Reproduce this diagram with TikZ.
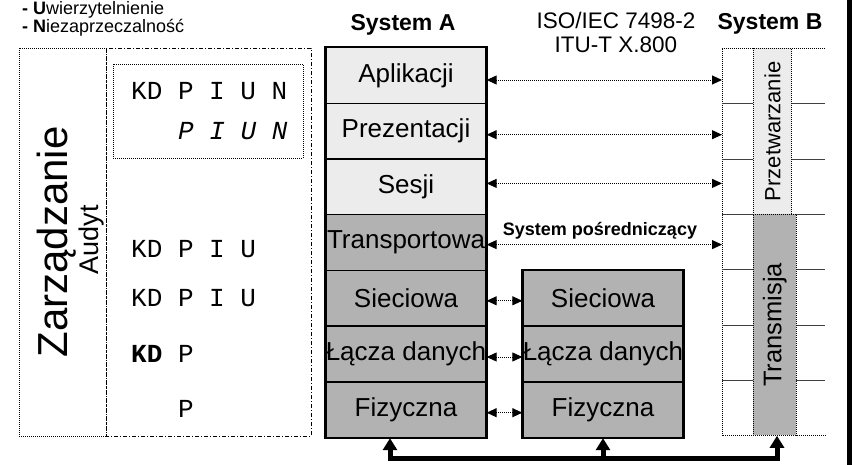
\documentclass[tikz,border=0pt]{standalone}
\usepackage{fontspec}
\setmainfont{Liberation Sans}
\newfontfamily\cmono{Liberation Mono}
\usetikzlibrary{arrows.meta}
\definecolor{lightg}{RGB}{236,236,236}
\definecolor{darkg}{RGB}{178,178,178}
\begin{document}
\begin{tikzpicture}[x=1pt,y=-1pt,
  layerbox/.style={draw=black,line width=1.3pt,minimum width=160pt,minimum height=55.7pt,inner sep=0pt},
  layertext/.style={font=\fontsize{26}{26}\selectfont,inner sep=0pt},
  monotext/.style={font=\cmono\fontsize{26}{26}\selectfont,anchor=base west,inner sep=0pt},
  dar/.style={line width=0.9pt,dash pattern=on 1pt off 1pt,{Triangle[length=10pt,width=9pt]}-{Triangle[length=10pt,width=9pt]}},
  thickar/.style={line width=5pt,line join=miter,-{Triangle[length=12pt,width=14pt]}},
  frame/.style={line width=0.8pt,dash pattern=on 1pt off 1pt},
  dashdotframe/.style={line width=0.8pt,dash pattern=on 4pt off 2pt on 1pt off 2pt},
  title/.style={font=\bfseries\fontsize{23}{23}\selectfont,anchor=base,inner sep=0pt},
  blabel/.style={inner sep=0pt,rotate=90,anchor=base}]
\useasboundingbox (0,0) rectangle (852,465);
% top-left legend
\node[anchor=base west,inner sep=0pt,font=\fontsize{18}{18}\selectfont] (l1) at (22,15) {\textbf{- U}wierzytelnienie};
\node[anchor=base west,inner sep=0pt,font=\fontsize{18}{18}\selectfont] (l2) at (22,32.5) {\textbf{- N}iezaprzeczalność};
% left frames
\draw[frame] (19,48) rectangle (106,436);
\draw[dashdotframe] (106,48) rectangle (311,436);
\draw[frame] (113,64) rectangle (303,158);
\node[blabel,font=\fontsize{42}{42}\selectfont] (zarz) at (67,242) {Zarządzanie};
\node[blabel,font=\fontsize{27}{27}\selectfont] (audyt) at (98,240) {Audyt};
\node[monotext] (m1) at (131,100) {KD P I U N};
\node[monotext,font=\cmono\itshape\fontsize{26}{26}\selectfont] (m2) at (178,140) {P I U N};
\node[monotext] (m3) at (131,258) {KD P I U};
\node[monotext] (m4) at (131,307) {KD P I U};
\node[monotext] (m5) at (131,362) {\textbf{KD} P};
\node[monotext] (m6) at (178,417) {P};
% titles
\node[title] (tA) at (403,31) {System A};
\node[title] (tB) at (770,30) {System B};
\node[anchor=base,inner sep=0pt,font=\fontsize{22.5}{22.5}\selectfont] (iso1) at (616,29) {ISO/IEC 7498-2};
\node[anchor=base,inner sep=0pt,font=\fontsize{22.5}{22.5}\selectfont] (iso2) at (616,53) {ITU-T X.800};
% System A
\node[layerbox,fill=lightg] (A1) at (406,75.5) {};
\node[layerbox,fill=lightg] (A2) at (406,131.2) {};
\node[layerbox,fill=lightg] (A3) at (406,186.9) {};
\node[layerbox,fill=darkg] (A4) at (406,242.6) {};
\node[layerbox,fill=darkg] (A5) at (406,298.3) {};
\node[layerbox,fill=darkg] (A6) at (406,354) {};
\node[layerbox,fill=darkg] (A7) at (406,409.7) {};
\draw[line width=2pt] (A1.north west) rectangle (A7.south east);
\node[layertext] at (A1) {Aplikacji};
\node[layertext] at (A2) {Prezentacji};
\node[layertext] at (A3) {Sesji};
\node[layertext] at (A4) {Transportowa};
\node[layertext] at (A5) {Sieciowa};
\node[layertext] at (A6) {Łącza danych};
\node[layertext] at (A7) {Fizyczna};
% intermediate system
\node[layerbox,fill=darkg] (I1) at (603,298.3) {};
\node[layerbox,fill=darkg] (I2) at (603,354) {};
\node[layerbox,fill=darkg] (I3) at (603,409.7) {};
\draw[line width=2pt] (I1.north west) rectangle (I3.south east);
\node[layertext] at (I1) {Sieciowa};
\node[layertext] at (I2) {Łącza danych};
\node[layertext] at (I3) {Fizyczna};
% System B
\node[inner sep=0pt,minimum width=103pt,minimum height=387pt,anchor=north west] (Bfr) at (722,48) {};
\draw[frame] (Bfr.north east) -- (Bfr.north west) -- (Bfr.south west) -- (Bfr.south east);
\foreach \yy in {103,159,214,269,325,380}{
  \draw[line width=0.8pt,black!75] (722,\yy) -- (825,\yy);
}
\node[draw,frame,fill=lightg,inner sep=0pt,minimum width=38pt,minimum height=166pt,anchor=north west] (P) at (753,48) {};
\node[draw,frame,fill=darkg,inner sep=0pt,minimum width=43pt,minimum height=221pt,anchor=north west] (T) at (753,214) {};
\node[inner sep=0pt,rotate=90,font=\fontsize{22}{22}\selectfont] at (P) {Przetwarzanie};
\node[inner sep=0pt,rotate=90,font=\fontsize{25.5}{25.5}\selectfont] at (T) {Transmisja};
% peer arrows
\coordinate (s1) at ([yshift=-4.5pt]A1.east);
\coordinate (s2) at ([yshift=-3.5pt]A2.east);
\coordinate (s3) at ([yshift=3.5pt]A3.east);
\coordinate (s4) at ([yshift=-2pt]A4.east);
\draw[dar] (s1) -- (s1 -| Bfr.west);
\draw[dar] (s2) -- (s2 -| Bfr.west);
\draw[dar] (s3) -- (s3 -| Bfr.west);
\draw[dar] (s4) -- (s4 -| Bfr.west);
\node[anchor=base,inner sep=0pt,font=\bfseries\fontsize{18}{18}\selectfont] (sp) at (600,236) {System pośredniczący};
\coordinate (s5) at ([yshift=-2.5pt]A5.east);
\coordinate (s6) at ([yshift=-3pt]A6.east);
\coordinate (s7) at ([yshift=-3pt]A7.east);
\draw[dar] (s5) -- (s5 -| I1.west);
\draw[dar] (s6) -- (s6 -| I2.west);
\draw[dar] (s7) -- (s7 -| I3.west);
% physical medium
\coordinate (b1) at (390,458);
\coordinate (b2) at (603,458);
\coordinate (b3) at (777,458);
\draw[line width=5pt,line join=miter,{Triangle[length=12pt,width=14pt]}-{Triangle[length=12pt,width=14pt]}] (b1 |- A7.south) -- (b1) -- (b3) -- (b3 |- T.south);
\draw[thickar] (b2) -- (I3.south);
% right bar
\fill[black] (847,0) rectangle (852,465);
\end{tikzpicture}
\end{document}
